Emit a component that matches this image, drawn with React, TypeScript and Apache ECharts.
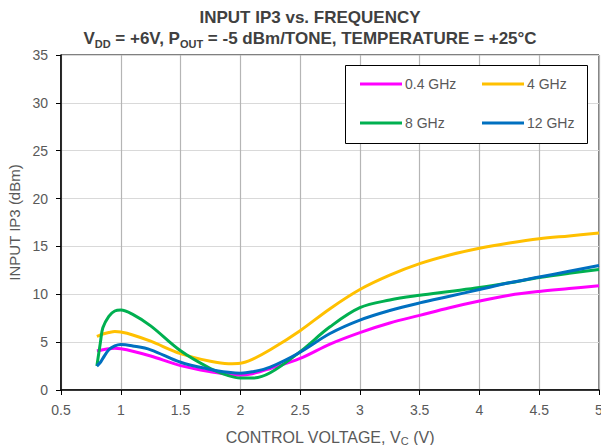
import React, { useEffect, useRef } from "react";
import * as echarts from "echarts";

const vc = [0.8, 0.83, 0.85, 0.9, 0.95, 1.0, 1.1, 1.25, 1.5, 1.75, 1.9, 2.0, 2.1, 2.25, 2.5, 2.75, 3.0, 3.25, 3.5, 3.75, 4.0, 4.25, 4.5, 4.75, 5.0];
const ip3_04GHz = [4.1, 4.15, 4.2, 4.3, 4.35, 4.3, 4.05, 3.55, 2.55, 1.9, 1.65, 1.55, 1.7, 2.25, 3.3, 4.8, 6.0, 7.0, 7.8, 8.6, 9.3, 9.9, 10.3, 10.6, 10.9];
const ip3_4GHz = [5.6, 5.75, 5.85, 6.0, 6.1, 6.05, 5.75, 5.1, 3.8, 3.0, 2.75, 2.8, 3.2, 4.2, 6.2, 8.5, 10.5, 12.0, 13.2, 14.1, 14.8, 15.35, 15.8, 16.1, 16.4];
const ip3_8GHz = [2.5, 5.0, 6.5, 7.7, 8.25, 8.35, 7.9, 6.7, 4.1, 2.25, 1.5, 1.25, 1.25, 1.8, 4.0, 6.6, 8.6, 9.4, 9.9, 10.3, 10.7, 11.2, 11.75, 12.2, 12.6];
const ip3_12GHz = [2.5, 2.9, 3.3, 4.2, 4.6, 4.75, 4.6, 4.2, 2.9, 2.15, 1.85, 1.75, 1.9, 2.4, 3.95, 5.9, 7.3, 8.3, 9.1, 9.8, 10.5, 11.2, 11.8, 12.4, 13.0];

const seriesNames = ["0.4 GHz", "4 GHz", "8 GHz", "12 GHz"];
const seriesColors = ["#FF00FF", "#FFC000", "#00B050", "#0070C0"];
const seriesValues = [ip3_04GHz, ip3_4GHz, ip3_8GHz, ip3_12GHz];

const FONT = "Liberation Sans, Arial, sans-serif";
const GREY = "#595959";

export default function App() {
  const ref = useRef<HTMLDivElement>(null);
  useEffect(() => {
    if (!ref.current) return;
    const chart = echarts.init(ref.current, null, { renderer: "svg" });
    const legendPos = [
      { left: 360, top: 77 },
      { left: 482, top: 77 },
      { left: 360, top: 116 },
      { left: 482, top: 116 },
    ];
    chart.setOption({
      animation: false,
      backgroundColor: "#fff",
      grid: {
        left: 61,
        right: 2,
        top: 55,
        bottom: 55,
        containLabel: false,
        outerBoundsMode: "none",
        show: true,
        borderColor: "#000",
        borderWidth: 1,
        backgroundColor: "transparent",
      },
      graphic: [
        {
          type: "text",
          x: 310,
          y: 17,
          style: {
            text: "INPUT IP3 vs. FREQUENCY",
            textAlign: "center",
            textVerticalAlign: "middle",
            fontFamily: FONT,
            fontWeight: "bold",
            fontSize: 17,
            fill: "#404040",
          },
        },
        {
          type: "text",
          x: 310,
          y: 38,
          style: {
            text: "{b|V}{s|DD}{b| = +6V, P}{s|OUT}{b| = -5 dBm/TONE, TEMPERATURE = +25°C}",
            textAlign: "center",
            textVerticalAlign: "middle",
            rich: {
              b: { fontFamily: FONT, fontWeight: "bold", fontSize: 17, fill: "#404040", lineHeight: 22 },
              s: { fontFamily: FONT, fontWeight: "bold", fontSize: 11, fill: "#404040", lineHeight: 10, verticalAlign: "bottom" },
            },
          },
        },
        {
          type: "rect",
          z: 10,
          shape: { x: 345.5, y: 65.5, width: 242, height: 78 },
          style: { fill: "#fff", stroke: "#000", lineWidth: 1 },
        },
      ],
      legend: seriesNames.map((n, i) => ({
        data: [n],
        left: legendPos[i].left,
        top: legendPos[i].top,
        padding: 0,
        icon: "rect",
        itemWidth: 42,
        itemHeight: 3,
        z: 20,
        textStyle: { fontFamily: FONT, fontSize: 14, color: GREY, padding: [0, 0, 0, -2] },
      })),
      xAxis: {
        type: "value",
        min: 0.5,
        max: 5,
        interval: 0.5,
        name: "{m|CONTROL VOLTAGE, V}{s|C}{m| (V)}",
        nameLocation: "middle",
        nameGap: 38,
        nameTextStyle: {
          fontFamily: FONT,
          fontSize: 16,
          color: GREY,
          rich: {
            m: { fontFamily: FONT, fontSize: 16, color: GREY, lineHeight: 18 },
            s: { fontFamily: FONT, fontSize: 11, color: GREY, verticalAlign: "bottom", lineHeight: 10 },
          },
        },
        axisLine: { lineStyle: { color: "#000", width: 1.5 } },
        axisTick: { show: true, length: 5, lineStyle: { color: "#000", width: 1 } },
        axisLabel: { fontFamily: FONT, fontSize: 14, color: GREY, margin: 13 },
        splitLine: { show: true, lineStyle: { color: "#b5b5b5", width: 1.2 } },
      },
      yAxis: {
        type: "value",
        min: 0,
        max: 35,
        interval: 5,
        name: "INPUT IP3 (dBm)",
        nameLocation: "middle",
        nameGap: 36,
        nameTextStyle: { fontFamily: FONT, fontSize: 15, color: GREY },
        axisLine: { show: true, lineStyle: { color: "#000", width: 1.5 } },
        axisTick: { show: true, length: 5, lineStyle: { color: "#000", width: 1 } },
        axisLabel: { fontFamily: FONT, fontSize: 14, color: GREY, margin: 13 },
        splitLine: { show: true, lineStyle: { color: "#d9d9d9", width: 1.2 } },
      },
      series: seriesNames.map((n, i) => ({
        name: n,
        type: "line",
        smooth: 0.35,
        showSymbol: false,
        symbol: "none",
        color: seriesColors[i],
        lineStyle: { width: 3, color: seriesColors[i] },
        data: vc.map((x, j) => [x, seriesValues[i][j]]),
      })),
    });
    return () => chart.dispose();
  }, []);
  return (
    <div
      ref={ref}
      style={{ position: "fixed", left: 0, top: 0, width: 601, height: 445, background: "#fff" }}
    />
  );
}
